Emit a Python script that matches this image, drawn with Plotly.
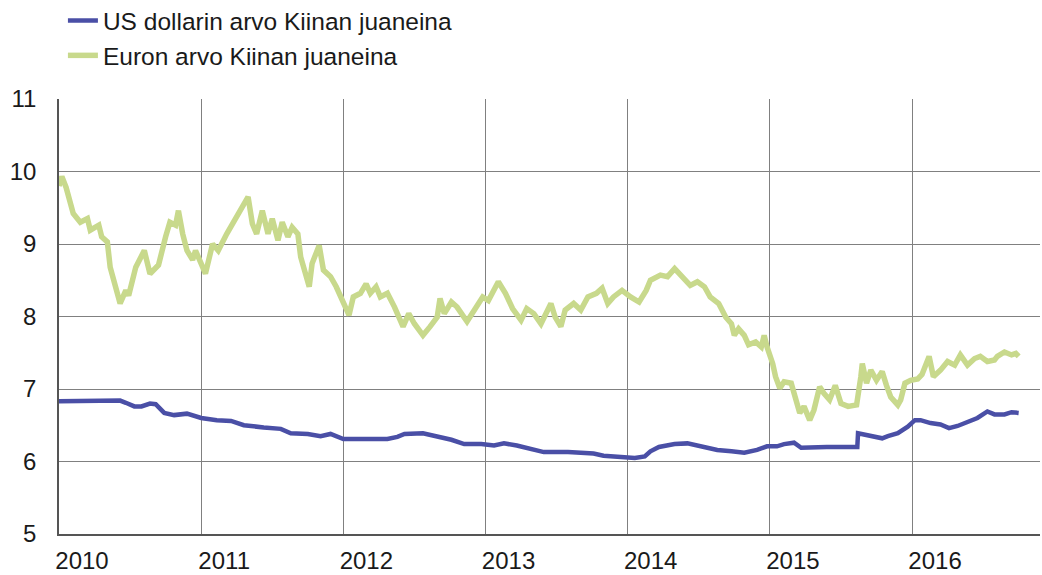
import plotly.graph_objects as go

# ---- data (decimal years, CNY per unit) ----
usd_t = [2010.00, 2010.20, 2010.43, 2010.47, 2010.53, 2010.58, 2010.64, 2010.68, 2010.74, 2010.81,
         2010.90, 2011.00, 2011.11, 2011.21, 2011.30, 2011.44, 2011.56, 2011.63, 2011.75, 2011.84,
         2011.91, 2012.00, 2012.10, 2012.19, 2012.31, 2012.38, 2012.43, 2012.56, 2012.66, 2012.76,
         2012.85, 2012.97, 2013.06, 2013.13, 2013.22, 2013.34, 2013.41, 2013.58, 2013.76, 2013.83,
         2013.95, 2014.05, 2014.12, 2014.16, 2014.22, 2014.33, 2014.42, 2014.51, 2014.63, 2014.73,
         2014.82, 2014.91, 2014.98, 2015.05, 2015.10, 2015.17, 2015.22, 2015.40, 2015.615, 2015.62,
         2015.68, 2015.79, 2015.83, 2015.90, 2015.97, 2016.02, 2016.06, 2016.13, 2016.20, 2016.26,
         2016.32, 2016.39, 2016.46, 2016.53, 2016.58, 2016.65, 2016.70, 2016.75]
usd_v = [6.83, 6.83, 6.84, 6.81, 6.76, 6.76, 6.80, 6.79, 6.67, 6.64,
         6.66, 6.60, 6.57, 6.56, 6.50, 6.47, 6.45, 6.39, 6.38, 6.35,
         6.38, 6.31, 6.31, 6.32, 6.31, 6.34, 6.38, 6.39, 6.35, 6.30,
         6.24, 6.24, 6.22, 6.25, 6.22, 6.17, 6.13, 6.13, 6.11, 6.08,
         6.07, 6.05, 6.07, 6.14, 6.20, 6.24, 6.25, 6.21, 6.16, 6.14,
         6.12, 6.16, 6.21, 6.21, 6.24, 6.26, 6.19, 6.20, 6.20, 6.39,
         6.37, 6.32, 6.35, 6.39, 6.48, 6.57, 6.57, 6.53, 6.51, 6.46,
         6.49, 6.55, 6.60, 6.69, 6.65, 6.65, 6.68, 6.67]

euro_t = [2010.00, 2010.02, 2010.05, 2010.10, 2010.15, 2010.20, 2010.22, 2010.28, 2010.30, 2010.34,
          2010.36, 2010.39, 2010.43, 2010.47, 2010.49, 2010.54, 2010.60, 2010.64, 2010.70, 2010.75,
          2010.78, 2010.82, 2010.84, 2010.87, 2010.90, 2010.94, 2010.96, 2011.00, 2011.03, 2011.08,
          2011.12, 2011.18, 2011.25, 2011.30, 2011.33, 2011.36, 2011.39, 2011.43, 2011.47, 2011.50,
          2011.54, 2011.57, 2011.61, 2011.64, 2011.68, 2011.70, 2011.73, 2011.76, 2011.78, 2011.83,
          2011.86, 2011.91, 2011.95, 2011.98, 2012.02, 2012.04, 2012.07, 2012.12, 2012.16, 2012.19,
          2012.23, 2012.26, 2012.31, 2012.36, 2012.42, 2012.46, 2012.50, 2012.56, 2012.61, 2012.66,
          2012.68, 2012.71, 2012.76, 2012.80, 2012.87, 2012.92, 2012.98, 2013.02, 2013.09, 2013.14,
          2013.19, 2013.25, 2013.29, 2013.34, 2013.39, 2013.46, 2013.49, 2013.53, 2013.56, 2013.62,
          2013.67, 2013.72, 2013.78, 2013.82, 2013.86, 2013.90, 2013.96, 2014.02, 2014.08, 2014.13,
          2014.16, 2014.23, 2014.28, 2014.33, 2014.39, 2014.44, 2014.49, 2014.54, 2014.58, 2014.64,
          2014.69, 2014.73, 2014.75, 2014.78, 2014.82, 2014.85, 2014.90, 2014.94, 2014.96, 2014.98,
          2015.02, 2015.04, 2015.07, 2015.10, 2015.15, 2015.18, 2015.21, 2015.24, 2015.28, 2015.31,
          2015.35, 2015.38, 2015.42, 2015.46, 2015.50, 2015.55, 2015.61, 2015.64, 2015.65, 2015.68,
          2015.71, 2015.75, 2015.79, 2015.82, 2015.85, 2015.90, 2015.92, 2015.95, 2015.99, 2016.04,
          2016.07, 2016.12, 2016.15, 2016.20, 2016.25, 2016.30, 2016.34, 2016.39, 2016.44, 2016.48,
          2016.53, 2016.58, 2016.60, 2016.65, 2016.70, 2016.73, 2016.75]
euro_v = [9.80, 9.93, 9.78, 9.42, 9.30, 9.35, 9.19, 9.26, 9.10, 9.03,
          8.68, 8.45, 8.18, 8.36, 8.29, 8.68, 8.91, 8.59, 8.71, 9.10,
          9.30, 9.26, 9.46, 9.14, 8.91, 8.78, 8.91, 8.73, 8.59, 9.00,
          8.91, 9.14, 9.37, 9.55, 9.65, 9.28, 9.14, 9.46, 9.14, 9.35,
          9.05, 9.30, 9.10, 9.23, 9.14, 8.82, 8.64, 8.41, 8.73, 8.98,
          8.64, 8.55, 8.41, 8.27, 8.13, 8.02, 8.27, 8.32, 8.45, 8.32,
          8.41, 8.27, 8.32, 8.13, 7.86, 8.04, 7.90, 7.74, 7.86, 7.99,
          8.25, 8.04, 8.20, 8.13, 7.93, 8.09, 8.27, 8.22, 8.48, 8.32,
          8.11, 7.95, 8.11, 8.04, 7.90, 8.18, 7.99, 7.86, 8.09, 8.18,
          8.09, 8.27, 8.32, 8.39, 8.18, 8.27, 8.36, 8.27, 8.20, 8.36,
          8.50, 8.57, 8.55, 8.66, 8.52, 8.43, 8.48, 8.41, 8.27, 8.18,
          7.99, 7.90, 7.74, 7.83, 7.74, 7.61, 7.65, 7.58, 7.74, 7.58,
          7.35, 7.17, 7.01, 7.10, 7.08, 6.85, 6.67, 6.76, 6.57, 6.71,
          7.03, 6.94, 6.85, 7.05, 6.80, 6.76, 6.78, 7.17, 7.35, 7.08,
          7.26, 7.12, 7.24, 7.05, 6.89, 6.78, 6.85, 7.08, 7.12, 7.14,
          7.20, 7.45, 7.17, 7.26, 7.38, 7.33, 7.47, 7.33, 7.42, 7.45,
          7.38, 7.40, 7.45, 7.51, 7.47, 7.49, 7.45]

series_names = ["US dollarin arvo Kiinan juaneina", "Euron arvo Kiinan juaneina"]
year_ticks = [2010, 2011, 2012, 2013, 2014, 2015, 2016]
year_labels = ["2010", "2011", "2012", "2013", "2014", "2015", "2016"]
y_ticks = [5, 6, 7, 8, 9, 10, 11]

FONT = "Liberation Sans, Arial, sans-serif"
fig = go.Figure()
fig.add_trace(go.Scatter(x=usd_t, y=usd_v, mode="lines", name=series_names[0],
                         line=dict(color="#4a4fa6", width=4.5)))
fig.add_trace(go.Scatter(x=euro_t, y=euro_v, mode="lines", name=series_names[1],
                         line=dict(color="#c8d98c", width=5.5)))

fig.update_layout(
    width=1042, height=575,
    margin=dict(l=59, r=2, t=99, b=41, autoexpand=False),
    paper_bgcolor="white", plot_bgcolor="white",
    font=dict(family=FONT, size=24, color="#1a1a1a"),
    showlegend=True,
    legend=dict(x=0.004, y=1.232, xanchor="left", yanchor="top", bgcolor="rgba(0,0,0,0)",
                font=dict(size=24.5), traceorder="normal", itemwidth=30, tracegroupgap=0),
)
fig.update_xaxes(range=[2010.0, 2016.90], tickvals=year_ticks, ticktext=year_labels,
                 showgrid=True, gridcolor="#808080", gridwidth=1,
                 showline=True, linecolor="#555555", linewidth=1.5,
                 zeroline=False, ticks="", ticklabelshift=23, ticklabelstandoff=4,
                 tickfont=dict(size=24), automargin=False)
fig.update_yaxes(range=[5, 11], tickvals=y_ticks,
                 showgrid=True, gridcolor="#808080", gridwidth=1,
                 showline=True, linecolor="#555555", linewidth=1.5,
                 zeroline=False, ticks="", ticklabelstandoff=16,
                 tickfont=dict(size=24), automargin=False)
fig.write_html("out.html", config={"displayModeBar": False},
               post_script="document.body.style.margin='0';document.body.style.overflow='hidden';")
